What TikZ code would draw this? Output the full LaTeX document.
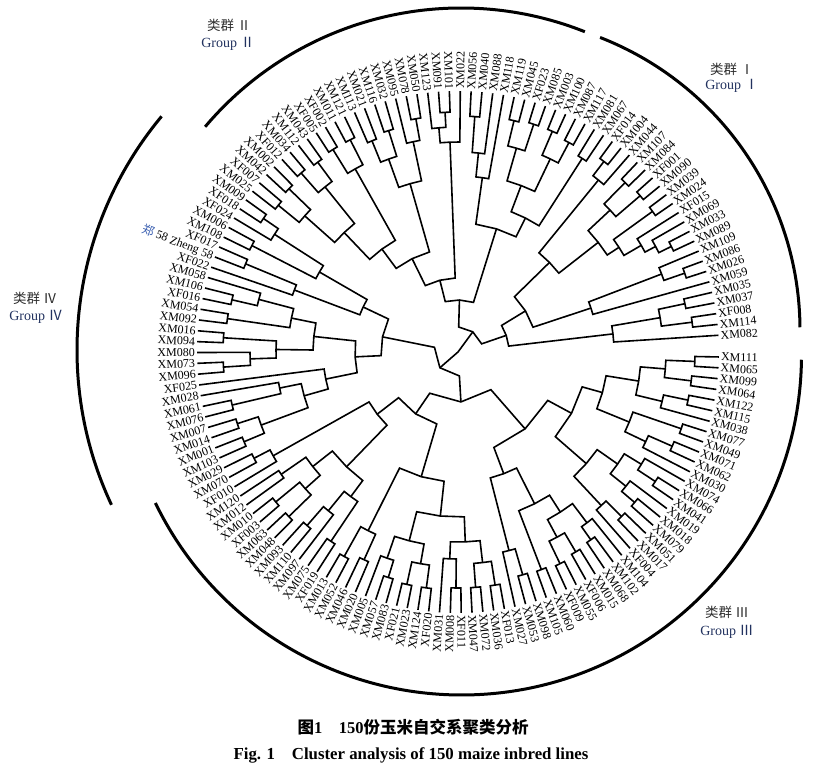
\documentclass[tikz,border=0pt]{standalone}
\usepackage{fontspec}
\setmainfont{Liberation Serif}
\newfontfamily\cjk{Noto Sans CJK SC}
\usepackage{tikz}
\definecolor{zhengblue}{HTML}{3A5FB0}
\definecolor{groupnavy}{HTML}{22325F}
\definecolor{groupgray}{HTML}{2E2E2E}
\newcommand\zheng{{\cjk\color{zhengblue}郑} 58 Zheng 58}
\newcommand\clade[4]{%
  \edef\cladeA{\csname ang#3\endcsname}%
  \edef\cladeB{\csname ang#4\endcsname}%
  \pgfmathsetmacro\cladeM{(\cladeA+\cladeB)/2}%
  \expandafter\xdef\csname ang#1\endcsname{\cladeM}%
  \coordinate (#1) at (\cladeM:#2);
  \draw[branch] (#3) -- (\cladeA:#2) -- (#1) -- (\cladeB:#2) -- (#4);
}

\begin{document}
\begin{tikzpicture}[x=1pt, y=1pt,
  branch/.style={line width=1.6pt},
  grouparc/.style={line width=3pt},
  leaf/.style={font=\fontsize{12}{12}\selectfont, inner sep=1pt},
  grpcn/.style={font=\cjk\fontsize{13.5}{14}\selectfont, text=groupgray},
  grpen/.style={font=\fontsize{14}{14}\selectfont, text=groupnavy}]
\useasboundingbox (0,0) rectangle (813,774);

\begin{scope}[shift={(458,422)}]
\foreach \lbl [count=\idx from 0] in {XM022, XM056, XM040, XM088, XM118, XM119, XM045, XF023, XM085, XM003,
  XM100, XM087, XM117, XM081, XM067, XF014, XM004, XM044, XM107, XM084, XF001, XM090, XM039, XM024,
  XF015, XM069, XM033, XM089, XM109, XM086, XM026, XM059, XM035, XM037, XF008, XM114, XM082,
  XM111, XM065, XM099, XM064, XM122, XM115, XM038, XM077, XM049, XM071, XM062, XM030, XM074,
  XM066, XM041, XM019, XM018, XM079, XM051, XM017, XF004, XM104, XM102, XM068, XM015, XF006,
  XM055, XF009, XM060, XM105, XM098, XM053, XM027, XF013, XM036, XM072, XM047, XF011, XM008,
  XM031, XF020, XM124, XM023, XF021, XM083, XM057, XM005, XM020, XM046, XM052, XM013, XF019,
  XM075, XM097, XM110, XM093, XM048, XM063, XF003, XM010, XM012, XM120, XF010, XM070, XM029,
  XM103, XM001, XM014, XM007, XM076, XM061, XM028, XF025, XM096, XM073, XM080, XM094, XM016,
  XM092, XM054, XF016, XM106, XM058, XF022, \zheng, XF017, XM108, XM006, XF024, XF018, XM009,
  XM025, XF007, XM042, XM002, XF012, XM034, XM112, XM043, XF005, XF002, XM011, XM121, XM113,
  XM021, XM116, XM032, XM095, XM078, XM050, XM123, XM091, XM101}{
  \pgfmathsetmacro\leafang{89.5-2.384*(\idx+(\idx>36))+360*(\idx>127)}
  \expandafter\xdef\csname angl\idx\endcsname{\leafang}
  \coordinate (l\idx) at (\leafang:261);
  \pgfmathtruncatemacro\flip{cos(\leafang)<0}
  \ifnum\flip=1
    \node[leaf, anchor=east, rotate=\leafang+180] (t\idx) at (\leafang:262) {\lbl};
  \else
    \node[leaf, anchor=west, rotate=\leafang] (t\idx) at (\leafang:262) {\lbl};
  \fi
}

\clade{a1}{236}{l1}{l2}
\clade{a2}{200}{a1}{l3}
\clade{a3}{176}{a2}{l4}
\clade{b1a}{238}{l5}{l6}
\clade{b1b}{240}{l7}{l8}
\clade{b1}{212}{b1a}{b1b}
\clade{b2a}{240}{l9}{l10}
\clade{b2b}{237}{l11}{l12}
\clade{b2}{214}{b2a}{b2b}
\clade{b3}{178}{b1}{b2}
\clade{b5}{230}{l13}{l14}
\clade{b4}{150}{b3}{b5}
\clade{A2}{129}{a3}{b4}
\clade{f1}{240}{l15}{l16}
\clade{f2}{222}{f1}{l17}
\clade{e1}{238}{l18}{l19}
\clade{e2}{240}{l20}{l21}
\clade{e3}{208}{e1}{e2}
\clade{g1}{240}{l22}{l23}
\clade{g2}{238}{l26}{l27}
\clade{g3}{224}{l25}{g2}
\clade{g4}{212}{l24}{g3}
\clade{g5}{192}{g1}{g4}
\clade{e5}{178}{e3}{g5}
\clade{B1u}{128}{f2}{e5}
\clade{h1}{240}{l29}{l30}
\clade{h2}{218}{l28}{h1}
\clade{B1l}{140}{h2}{l31}
\clade{B1}{79}{B1u}{B1l}
\clade{c1}{232}{l32}{l33}
\clade{c2}{236}{l34}{l35}
\clade{c3}{205}{c1}{c2}
\clade{B2}{156}{c3}{l36}
\clade{B}{51}{B1}{B2}
\clade{n9}{232}{l128}{l129}
\clade{n8}{235}{l130}{l131}
\clade{n10}{205}{n9}{n8}
\clade{n5}{238}{l132}{l133}
\clade{n4}{236}{l134}{l135}
\clade{n6}{212}{n5}{n4}
\clade{n11}{165}{n10}{n6}
\clade{n2}{238}{l136}{l137}
\clade{n1}{238}{l138}{l139}
\clade{n3}{210}{n2}{n1}
\clade{A1a1}{128}{n11}{n3}
\clade{m1}{228}{l140}{l141}
\clade{m2}{232}{l142}{l143}
\clade{m3}{205}{m1}{m2}
\clade{k4}{237}{l145}{l146}
\clade{m4}{215}{l144}{k4}
\clade{A1a2}{175}{m3}{m4}
\clade{A1a}{104}{A1a1}{A1a2}
\clade{k1}{240}{l148}{l149}
\clade{k2}{225}{l147}{k1}
\clade{k3}{210}{k2}{l0}
\clade{A1}{74}{A1a}{k3}
\clade{A}{52}{A1}{A2}
\clade{P}{25}{A}{B}

\clade{q1}{230}{l121}{l122}
\clade{qA}{175}{l120}{q1}
\clade{q2}{232}{l123}{l124}
\clade{q3}{236}{l126}{l127}
\clade{q4}{218}{l125}{q3}
\clade{qB}{160}{q2}{q4}
\clade{Q1a}{105}{qA}{qB}
\clade{t1}{232}{l117}{l118}
\clade{t2}{206}{l119}{t1}
\clade{t3}{233}{l115}{l116}
\clade{t4}{170}{t3}{t2}
\clade{t5}{235}{l113}{l114}
\clade{t6}{235}{l110}{l111}
\clade{t7}{208}{l112}{t6}
\clade{t8}{182}{t5}{t7}
\clade{Q1bu}{145}{t4}{t8}
\clade{s1}{232}{l106}{l107}
\clade{s2}{182}{l108}{s1}
\clade{u1}{232}{l104}{l105}
\clade{u2}{232}{l102}{l103}
\clade{u3}{210}{u1}{u2}
\clade{u4}{160}{s2}{u3}
\clade{Q1bd}{135}{l109}{u4}
\clade{Q1b}{103}{Q1bu}{Q1bd}
\clade{Q1}{77}{Q1a}{Q1b}
\clade{v1}{230}{l100}{l101}
\clade{v2}{212}{l99}{v1}
\clade{v3}{215}{l97}{l98}
\clade{v4}{236}{l95}{l96}
\clade{v5}{236}{l93}{l94}
\clade{v6}{205}{v4}{v5}
\clade{v7}{185}{v3}{v6}
\clade{v8}{230}{l91}{l92}
\clade{v9}{205}{l90}{v8}
\clade{v10}{228}{l88}{l89}
\clade{v11}{180}{v10}{v9}
\clade{v12}{160}{v7}{v11}
\clade{Q2a1}{102}{v2}{v12}
\clade{w1}{234}{l86}{l87}
\clade{w2}{228}{l84}{l85}
\clade{w9}{200}{w1}{w2}
\clade{w3}{236}{l81}{l82}
\clade{w4}{218}{l83}{w3}
\clade{w5}{238}{l79}{l80}
\clade{w6}{238}{l77}{l78}
\clade{w7}{215}{w5}{w6}
\clade{w8}{195}{w4}{w7}
\clade{x1}{236}{l74}{l75}
\clade{x2}{207}{l76}{x1}
\clade{x3}{236}{l72}{l73}
\clade{x4}{236}{l70}{l71}
\clade{x5}{212}{x3}{x4}
\clade{x6}{190}{x2}{x5}
\clade{Z}{165}{w8}{x6}
\clade{Q2a2}{130}{w9}{Z}
\clade{Q2a}{75}{Q2a1}{Q2a2}
\clade{y1}{232}{l67}{l68}
\clade{y2}{205}{l69}{y1}
\clade{y3}{233}{l65}{l66}
\clade{y4}{235}{l63}{l64}
\clade{y5}{232}{l61}{l62}
\clade{y6}{210}{y4}{y5}
\clade{y7}{230}{l59}{l60}
\clade{y8}{214}{l58}{y7}
\clade{y9}{190}{y6}{y8}
\clade{y10}{170}{y3}{y9}
\clade{Q2b1}{130}{y2}{y10}
\clade{z1}{237}{l37}{l38}
\clade{z2}{235}{l39}{l40}
\clade{z3}{208}{z1}{z2}
\clade{z4}{235}{l41}{l42}
\clade{z5}{210}{z4}{l43}
\clade{z6}{183}{z3}{z5}
\clade{z7}{236}{l44}{l45}
\clade{z8}{234}{l46}{l47}
\clade{z9}{208}{z8}{l48}
\clade{z10}{185}{z7}{z9}
\clade{z11}{150}{z6}{z10}
\clade{aa1}{236}{l50}{l51}
\clade{aa2}{215}{l49}{aa1}
\clade{aa3}{232}{l53}{l54}
\clade{aa4}{215}{l52}{aa3}
\clade{aa5}{195}{aa2}{aa4}
\clade{aa6}{232}{l55}{l56}
\clade{aa7}{210}{aa6}{l57}
\clade{aa8}{170}{aa5}{aa7}
\clade{Q2b2}{129}{z11}{aa8}
\clade{Q2b}{102}{Q2b1}{Q2b2}
\clade{Q2}{50}{Q2a}{Q2b}
\clade{Q}{24}{Q1}{Q2}
\coordinate (root) at (0,0);
\draw[branch] (P) -- (root) -- (Q);
\end{scope}

\draw[grouparc] (486,444) ++(68.7:314) arc[start angle=68.7, end angle=0.5, radius=314];
\draw[grouparc] (461,431) ++(68.3:335) arc[start angle=68.3, end angle=139.8, radius=335];
\draw[grouparc] (442,424) ++(140.2:365) arc[start angle=140.2, end angle=205.1, radius=365];
\draw[grouparc] (461.5,419) ++(-0.8:340) arc[start angle=-0.8, end angle=-154.2, radius=340];

\node[grpcn] (g1cn) at (732,705) {类群\ Ⅰ};
\node[grpen] (g1en) at (732,688) {Group {\cjk Ⅰ}};
\node[grpcn] (g2cn) at (229,749) {类群\ Ⅱ};
\node[grpen] (g2en) at (228,730) {Group {\cjk Ⅱ}};
\node[grpcn] (g4cn) at (35,476) {类群\ Ⅳ};
\node[grpen] (g4en) at (36,457) {Group {\cjk Ⅳ}};
\node[grpcn] (g3cn) at (727,162) {类群\ Ⅲ};
\node[grpen] (g3en) at (727,142) {Group {\cjk Ⅲ}};

\node[font=\bfseries\fontsize{16.5}{18}\selectfont] (cap1) at (413,47) {{\cjk 图}1\quad 150{\cjk 份玉米自交系聚类分析}};
\node[font=\bfseries\fontsize{16.8}{18}\selectfont] (cap2) at (411,19) {Fig. 1\quad Cluster analysis of 150 maize inbred lines};
\end{tikzpicture}
\end{document}
